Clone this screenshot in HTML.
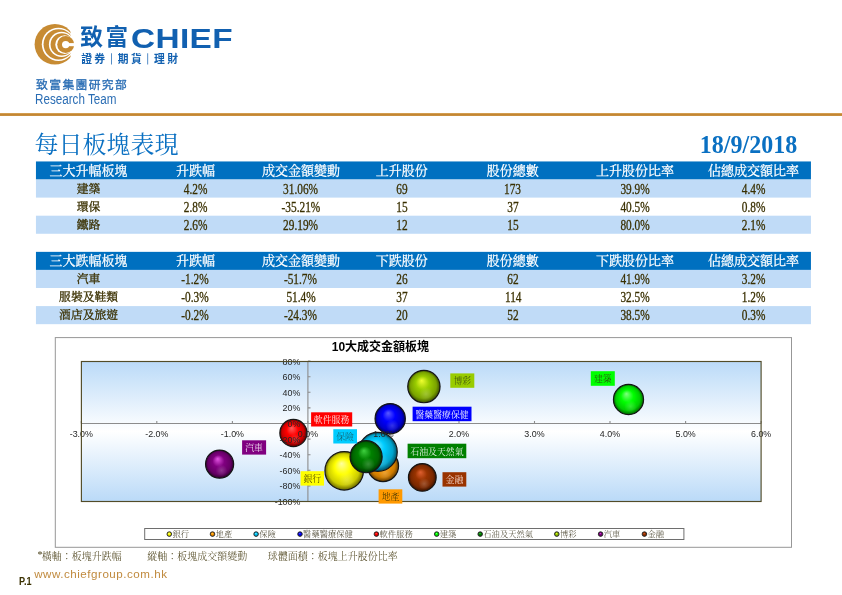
<!DOCTYPE html>
<html lang="zh-HK">
<head>
<meta charset="utf-8">
<title>每日板塊表現</title>
<style>
html,body{margin:0;padding:0;background:#fff;}
body{width:842px;height:595px;position:relative;overflow:hidden;will-change:transform;font-family:"Liberation Serif","Noto Serif CJK SC",serif;color:#3a3000;}
.abs{position:absolute;white-space:nowrap;line-height:1;}
.sans{font-family:"Liberation Sans","Noto Sans CJK TC",sans-serif;}
.logo{position:absolute;left:0;top:0;}
.brand{left:79.9px;top:26.6px;font-family:"Liberation Sans","Noto Sans CJK TC",sans-serif;font-weight:bold;color:#1160b0;font-size:22.6px;letter-spacing:2.7px;}
.chief{left:131px;top:25.6px;font-family:"Liberation Sans","Noto Sans CJK TC",sans-serif;font-weight:bold;color:#1160b0;font-size:26.8px;letter-spacing:0.3px;transform:scaleX(1.245);transform-origin:0 50%;}
.sub{left:80.8px;top:54.1px;font-family:"Liberation Sans","Noto Sans CJK TC",sans-serif;font-weight:bold;color:#1160b0;font-size:10.8px;letter-spacing:2.3px;}
.sub i{font-style:normal;font-weight:normal;display:inline-block;width:10.25px;text-align:center;letter-spacing:0;margin-left:-1.1px;margin-right:1.1px;}
.dept{left:36.1px;top:79.6px;font-family:"Liberation Sans","Noto Sans CJK TC",sans-serif;-webkit-text-stroke:0.3px #2a6db4;color:#2a6db4;font-size:11.8px;letter-spacing:1.35px;}
.team{left:35.2px;top:93.1px;font-family:"Liberation Sans","Noto Sans CJK TC",sans-serif;color:#2a6db4;font-size:13.8px;transform:scaleX(0.845);transform-origin:0 50%;}
.rule{position:absolute;left:0;top:113px;width:842px;height:3px;background:linear-gradient(#d9a85e,#c48632 50%,#c99346);}
.title{left:34.6px;top:133.2px;font-size:24px;color:#0a70c2;}
.date{left:699.8px;top:133.2px;font-size:24px;font-weight:bold;color:#0a70c2;transform:scaleY(1.065);transform-origin:0 100%;}
.tbl{position:absolute;left:36px;width:775.3px;height:73px;}
.tr{position:absolute;left:0;width:775.3px;}
.tr.th{color:#fff;}
.td{position:absolute;top:0;width:130px;height:100%;text-align:center;font-size:11.8px;line-height:20.4px;white-space:nowrap;-webkit-text-stroke:0.3px #3a3000;}
.th .td{font-size:13px;line-height:19.6px;-webkit-text-stroke:0.25px #fff;}
.n{display:inline-block;font-size:14px;line-height:19.4px;transform:scaleX(0.81);-webkit-text-stroke:0.3px #3a3000;vertical-align:top;position:relative;top:0.9px;}
.chart{position:absolute;left:0;top:0;}
.ax text{font-family:"Liberation Sans","Noto Sans CJK TC",sans-serif;font-size:9.9px;fill:#262626;}
.dl{font-family:"Liberation Serif","Noto Serif CJK SC",serif;font-size:8.9px;font-weight:300;}
.ct{font-family:"Liberation Sans","Noto Sans CJK TC",sans-serif;font-size:12px;font-weight:bold;fill:#000;}
.lg{font-family:"Liberation Serif","Noto Serif CJK SC",serif;font-size:8.3px;fill:#4a4530;font-weight:300;}
.note{top:552.2px;font-size:10px;color:#4a4018;font-weight:300;}
.www{left:34.2px;top:567.8px;font-family:"Liberation Sans","Noto Sans CJK TC",sans-serif;color:#c08a3e;font-size:11.6px;letter-spacing:0.52px;}
.pno{left:18.6px;top:575.6px;font-family:"Liberation Sans","Noto Sans CJK TC",sans-serif;font-weight:bold;color:#3a3000;font-size:10.6px;transform:scaleX(0.86);transform-origin:0 50%;}
</style>
</head>
<body>
<svg class="logo" width="842" height="120" viewBox="0 0 842 120" role="img" aria-label="致富CHIEF 證券 | 期貨 | 理財"><title>致富CHIEF 證券 | 期貨 | 理財</title>
<g fill="#c78b33">
<circle cx="54.9" cy="44.3" r="20.3"/>
<circle cx="58.4" cy="44.3" r="16.6" fill="#fff"/>
<circle cx="58.7" cy="44.3" r="15.15"/>
<circle cx="61.5" cy="44.4" r="12.6" fill="#fff"/>
<circle cx="61.8" cy="44.4" r="11.2"/>
<path d="M70.6 20H80V70H70.6Z" fill="#fff"/>
<circle cx="64.7" cy="44.6" r="9.45" fill="#fff"/>
<circle cx="65.7" cy="44.6" r="8.5"/>
<circle cx="65.7" cy="44.6" r="3.7" fill="#fff"/>
<rect x="66" y="43.1" width="9" height="3.1" fill="#fff"/>
</g>
<text x="80.3" y="45.4" font-family="'Liberation Sans','Noto Sans CJK TC',sans-serif" font-weight="bold" font-size="22.6" letter-spacing="2.7" fill="#1160b0">致富</text>
<g font-family="'Liberation Sans','Noto Sans CJK TC',sans-serif" font-weight="bold" font-size="10.8" letter-spacing="2.3" fill="#1160b0">
<text x="81.2" y="63.3">證券</text>
<text x="117.8" y="63.3">期貨</text>
<text x="154.1" y="63.3">理財</text>
</g>
<path fill="#1160b0" fill-opacity=".75" d="M111 53.2h.95v11.3h-.95zM147.2 53.2h.95v11.3h-.95z"/>
</svg>
<div class="abs chief">CHIEF</div>
<div class="abs dept">致富集團研究部</div>
<div class="abs team">Research Team</div>
<div class="rule"></div>
<svg class="chart" width="842" height="595" viewBox="0 0 842 595">
<rect x="35.95" y="161.45" width="775.0" height="18.08" fill="#0070c0"/>
<rect x="35.95" y="179.53" width="775.0" height="18.08" fill="#c0dbf7"/>
<rect x="35.95" y="215.69" width="775.0" height="18.08" fill="#c0dbf7"/>
<rect x="35.95" y="251.85" width="775.0" height="18.08" fill="#0070c0"/>
<rect x="35.95" y="269.93" width="775.0" height="18.08" fill="#c0dbf7"/>
<rect x="35.95" y="306.09" width="775.0" height="18.08" fill="#c0dbf7"/>
</svg>
<div class="abs title">每日板塊表現</div>
<div class="abs date">18/9/2018</div>
<div class="tbl" style="top:161px">
<div class="tr th" style="top:0px;height:18.08px">
<span class="td" style="left:-12.4px">三大升幅板塊</span>
<span class="td" style="left:94.4px">升跌幅</span>
<span class="td" style="left:199.9px">成交金額變動</span>
<span class="td" style="left:300.7px">上升股份</span>
<span class="td" style="left:411.8px">股份總數</span>
<span class="td" style="left:534.1px">上升股份比率</span>
<span class="td" style="left:652.4px">佔總成交額比率</span>
</div>
<div class="tr" style="top:18.08px;height:18.08px">
<span class="td" style="left:-12.4px">建築</span>
<span class="td" style="left:94.4px"><span class="n">4.2%</span></span>
<span class="td" style="left:199.9px"><span class="n">31.06%</span></span>
<span class="td" style="left:300.7px"><span class="n">69</span></span>
<span class="td" style="left:411.8px"><span class="n">173</span></span>
<span class="td" style="left:534.1px"><span class="n">39.9%</span></span>
<span class="td" style="left:652.4px"><span class="n">4.4%</span></span>
</div>
<div class="tr" style="top:36.16px;height:18.08px">
<span class="td" style="left:-12.4px">環保</span>
<span class="td" style="left:94.4px"><span class="n">2.8%</span></span>
<span class="td" style="left:199.9px"><span class="n">-35.21%</span></span>
<span class="td" style="left:300.7px"><span class="n">15</span></span>
<span class="td" style="left:411.8px"><span class="n">37</span></span>
<span class="td" style="left:534.1px"><span class="n">40.5%</span></span>
<span class="td" style="left:652.4px"><span class="n">0.8%</span></span>
</div>
<div class="tr" style="top:54.24px;height:18.08px">
<span class="td" style="left:-12.4px">鐵路</span>
<span class="td" style="left:94.4px"><span class="n">2.6%</span></span>
<span class="td" style="left:199.9px"><span class="n">29.19%</span></span>
<span class="td" style="left:300.7px"><span class="n">12</span></span>
<span class="td" style="left:411.8px"><span class="n">15</span></span>
<span class="td" style="left:534.1px"><span class="n">80.0%</span></span>
<span class="td" style="left:652.4px"><span class="n">2.1%</span></span>
</div>
</div>
<div class="tbl" style="top:251px">
<div class="tr th" style="top:0px;height:18.08px">
<span class="td" style="left:-12.4px">三大跌幅板塊</span>
<span class="td" style="left:94.4px">升跌幅</span>
<span class="td" style="left:199.9px">成交金額變動</span>
<span class="td" style="left:300.7px">下跌股份</span>
<span class="td" style="left:411.8px">股份總數</span>
<span class="td" style="left:534.1px">下跌股份比率</span>
<span class="td" style="left:652.4px">佔總成交額比率</span>
</div>
<div class="tr" style="top:18.08px;height:18.08px">
<span class="td" style="left:-12.4px">汽車</span>
<span class="td" style="left:94.4px"><span class="n">-1.2%</span></span>
<span class="td" style="left:199.9px"><span class="n">-51.7%</span></span>
<span class="td" style="left:300.7px"><span class="n">26</span></span>
<span class="td" style="left:411.8px"><span class="n">62</span></span>
<span class="td" style="left:534.1px"><span class="n">41.9%</span></span>
<span class="td" style="left:652.4px"><span class="n">3.2%</span></span>
</div>
<div class="tr" style="top:36.16px;height:18.08px">
<span class="td" style="left:-12.4px">服裝及鞋類</span>
<span class="td" style="left:94.4px"><span class="n">-0.3%</span></span>
<span class="td" style="left:199.9px"><span class="n">51.4%</span></span>
<span class="td" style="left:300.7px"><span class="n">37</span></span>
<span class="td" style="left:411.8px"><span class="n">114</span></span>
<span class="td" style="left:534.1px"><span class="n">32.5%</span></span>
<span class="td" style="left:652.4px"><span class="n">1.2%</span></span>
</div>
<div class="tr" style="top:54.24px;height:18.08px">
<span class="td" style="left:-12.4px">酒店及旅遊</span>
<span class="td" style="left:94.4px"><span class="n">-0.2%</span></span>
<span class="td" style="left:199.9px"><span class="n">-24.3%</span></span>
<span class="td" style="left:300.7px"><span class="n">20</span></span>
<span class="td" style="left:411.8px"><span class="n">52</span></span>
<span class="td" style="left:534.1px"><span class="n">38.5%</span></span>
<span class="td" style="left:652.4px"><span class="n">0.3%</span></span>
</div>
</div>
<svg class="chart" width="842" height="595" viewBox="0 0 842 595">
<defs><linearGradient id="pg" x1="0" y1="0" x2="0" y2="1"><stop offset="0" stop-color="#badaf8"/><stop offset="0.5" stop-color="#ffffff"/><stop offset="1" stop-color="#badaf8"/></linearGradient>
<radialGradient id="gyl" cx="0.5" cy="0.5" r="0.5" fx="0.43" fy="0.31"><stop offset="0" stop-color="#ffffa0"/><stop offset="0.42" stop-color="#ffff00"/><stop offset="0.8" stop-color="#cccc00"/><stop offset="1" stop-color="#666600"/></radialGradient>
<radialGradient id="gor" cx="0.5" cy="0.5" r="0.5" fx="0.43" fy="0.31"><stop offset="0" stop-color="#ffd060"/><stop offset="0.42" stop-color="#ff9900"/><stop offset="0.8" stop-color="#cc7a00"/><stop offset="1" stop-color="#663d00"/></radialGradient>
<radialGradient id="gcy" cx="0.5" cy="0.5" r="0.5" fx="0.43" fy="0.31"><stop offset="0" stop-color="#80f0ff"/><stop offset="0.42" stop-color="#00ccff"/><stop offset="0.8" stop-color="#00a3cc"/><stop offset="1" stop-color="#005166"/></radialGradient>
<radialGradient id="gbl" cx="0.5" cy="0.5" r="0.5" fx="0.43" fy="0.31"><stop offset="0" stop-color="#5a5aff"/><stop offset="0.42" stop-color="#0000ff"/><stop offset="0.8" stop-color="#0000cc"/><stop offset="1" stop-color="#000066"/></radialGradient>
<radialGradient id="grd" cx="0.5" cy="0.5" r="0.5" fx="0.43" fy="0.31"><stop offset="0" stop-color="#ff6060"/><stop offset="0.42" stop-color="#ff0000"/><stop offset="0.8" stop-color="#cc0000"/><stop offset="1" stop-color="#660000"/></radialGradient>
<radialGradient id="ggn" cx="0.5" cy="0.5" r="0.5" fx="0.43" fy="0.31"><stop offset="0" stop-color="#80ff80"/><stop offset="0.42" stop-color="#00ff00"/><stop offset="0.8" stop-color="#00cc00"/><stop offset="1" stop-color="#006600"/></radialGradient>
<radialGradient id="gdg" cx="0.5" cy="0.5" r="0.5" fx="0.43" fy="0.31"><stop offset="0" stop-color="#3fd03f"/><stop offset="0.42" stop-color="#008000"/><stop offset="0.8" stop-color="#006600"/><stop offset="1" stop-color="#003300"/></radialGradient>
<radialGradient id="gyg" cx="0.5" cy="0.5" r="0.5" fx="0.43" fy="0.31"><stop offset="0" stop-color="#f0ff30"/><stop offset="0.42" stop-color="#99cc00"/><stop offset="0.8" stop-color="#7aa300"/><stop offset="1" stop-color="#3d5100"/></radialGradient>
<radialGradient id="gpu" cx="0.5" cy="0.5" r="0.5" fx="0.43" fy="0.31"><stop offset="0" stop-color="#e455e4"/><stop offset="0.42" stop-color="#800080"/><stop offset="0.8" stop-color="#660066"/><stop offset="1" stop-color="#330033"/></radialGradient>
<radialGradient id="gbr" cx="0.5" cy="0.5" r="0.5" fx="0.43" fy="0.31"><stop offset="0" stop-color="#e06030"/><stop offset="0.42" stop-color="#993300"/><stop offset="0.8" stop-color="#7a2800"/><stop offset="1" stop-color="#3d1400"/></radialGradient>
<radialGradient id="h2" cx="0.57" cy="0.74" r="0.22"><stop offset="0" stop-color="#fff" stop-opacity="0.2"/><stop offset="1" stop-color="#fff" stop-opacity="0"/></radialGradient>
</defs>
<rect x="55.3" y="337.6" width="736.2" height="209.7" fill="#fff" stroke="#979797" stroke-width="1"/>
<rect x="81.3" y="361.1" width="679.8" height="140.4" fill="url(#pg)"/>
<g stroke="#8c8c8c" stroke-width="1.1" fill="none">
<path d="M307.9 361.1V501.5"/>
<path d="M81.3 423.5H761.1"/>
<path d="M307.9 501.5h2.6M307.9 485.9h2.6M307.9 470.3h2.6M307.9 454.7h2.6M307.9 439.1h2.6M307.9 423.5h2.6M307.9 407.9h2.6M307.9 392.3h2.6M307.9 376.7h2.6M307.9 361.1h2.6M81.3 423.5v-2.6M156.8 423.5v-2.6M232.4 423.5v-2.6M307.9 423.5v-2.6M383.4 423.5v-2.6M459.0 423.5v-2.6M534.5 423.5v-2.6M610.0 423.5v-2.6M685.6 423.5v-2.6M761.1 423.5v-2.6"/>
</g>
<circle cx="344.2" cy="470.8" r="19.25" fill="url(#gyl)" stroke="#151515" stroke-width="1.2"/><circle cx="344.2" cy="470.8" r="18.70" fill="url(#h2)"/>
<circle cx="383.0" cy="466.0" r="15.55" fill="url(#gor)" stroke="#151515" stroke-width="1.2"/><circle cx="383.0" cy="466.0" r="15.00" fill="url(#h2)"/>
<circle cx="377.8" cy="451.9" r="19.45" fill="url(#gcy)" stroke="#151515" stroke-width="1.2"/><circle cx="377.8" cy="451.9" r="18.90" fill="url(#h2)"/>
<circle cx="390.2" cy="418.7" r="15.15" fill="url(#gbl)" stroke="#151515" stroke-width="1.2"/><circle cx="390.2" cy="418.7" r="14.60" fill="url(#h2)"/>
<circle cx="293.4" cy="433.0" r="13.55" fill="url(#grd)" stroke="#151515" stroke-width="1.2"/><circle cx="293.4" cy="433.0" r="13.00" fill="url(#h2)"/>
<circle cx="628.5" cy="399.5" r="15.05" fill="url(#ggn)" stroke="#151515" stroke-width="1.2"/><circle cx="628.5" cy="399.5" r="14.50" fill="url(#h2)"/>
<circle cx="366.1" cy="456.7" r="16.05" fill="url(#gdg)" stroke="#151515" stroke-width="1.2"/><circle cx="366.1" cy="456.7" r="15.50" fill="url(#h2)"/>
<circle cx="423.9" cy="386.6" r="16.15" fill="url(#gyg)" stroke="#151515" stroke-width="1.2"/><circle cx="423.9" cy="386.6" r="15.60" fill="url(#h2)"/>
<circle cx="219.6" cy="464.1" r="14.05" fill="url(#gpu)" stroke="#151515" stroke-width="1.2"/><circle cx="219.6" cy="464.1" r="13.50" fill="url(#h2)"/>
<circle cx="422.3" cy="477.4" r="13.85" fill="url(#gbr)" stroke="#151515" stroke-width="1.2"/><circle cx="422.3" cy="477.4" r="13.30" fill="url(#h2)"/>
<g class="ax" text-anchor="end">
<text transform="translate(300.4 364.7) scale(.9 1)">80%</text>
<text transform="translate(300.4 380.2) scale(.9 1)">60%</text>
<text transform="translate(300.4 395.9) scale(.9 1)">40%</text>
<text transform="translate(300.4 411.4) scale(.9 1)">20%</text>
<text transform="translate(300.4 427.1) scale(.9 1)">0%</text>
<text transform="translate(300.4 442.7) scale(.9 1)">-20%</text>
<text transform="translate(300.4 458.2) scale(.9 1)">-40%</text>
<text transform="translate(300.4 473.9) scale(.9 1)">-60%</text>
<text transform="translate(300.4 489.4) scale(.9 1)">-80%</text>
<text transform="translate(300.4 505.1) scale(.9 1)">-100%</text>
</g>
<g class="ax" text-anchor="middle">
<text transform="translate(81.3 437.4) scale(.9 1)">-3.0%</text>
<text transform="translate(156.8 437.4) scale(.9 1)">-2.0%</text>
<text transform="translate(232.4 437.4) scale(.9 1)">-1.0%</text>
<text transform="translate(307.9 437.4) scale(.9 1)">0.0%</text>
<text transform="translate(383.4 437.4) scale(.9 1)">1.0%</text>
<text transform="translate(459.0 437.4) scale(.9 1)">2.0%</text>
<text transform="translate(534.5 437.4) scale(.9 1)">3.0%</text>
<text transform="translate(610.0 437.4) scale(.9 1)">4.0%</text>
<text transform="translate(685.6 437.4) scale(.9 1)">5.0%</text>
<text transform="translate(761.1 437.4) scale(.9 1)">6.0%</text>
</g>
<rect x="81.4" y="361.5" width="679.7" height="140.0" fill="none" stroke="#524c28" stroke-width="1.15"/>
<rect x="300.6" y="471.2" width="23.4" height="14.4" fill="#ffff00"/>
<text class="dl" x="312.3" y="482.0" fill="#3a3000" text-anchor="middle">銀行</text>
<rect x="378.6" y="489.3" width="23.7" height="14.3" fill="#ff9900"/>
<text class="dl" x="390.5" y="500.1" fill="#3a3000" text-anchor="middle">地產</text>
<rect x="333.3" y="429.2" width="23.7" height="14.3" fill="#00ccff"/>
<text class="dl" x="345.1" y="440.0" fill="#14606e" text-anchor="middle">保險</text>
<rect x="412.6" y="406.7" width="58.9" height="14.5" fill="#0000ff"/>
<text class="dl" x="442.1" y="417.6" fill="#ffffff" text-anchor="middle">醫藥醫療保健</text>
<rect x="311.1" y="412.3" width="41.1" height="14.2" fill="#ff0000"/>
<text class="dl" x="331.6" y="423.0" fill="#ffffff" text-anchor="middle">軟件服務</text>
<rect x="590.8" y="371.2" width="24.0" height="14.6" fill="#00ff00"/>
<text class="dl" x="602.8" y="382.1" fill="#2a4a10" text-anchor="middle">建築</text>
<rect x="407.6" y="443.7" width="58.7" height="14.5" fill="#008000"/>
<text class="dl" x="437.0" y="454.6" fill="#ffffff" text-anchor="middle">石油及天然氣</text>
<rect x="450.3" y="373.4" width="24.0" height="14.4" fill="#99cc00"/>
<text class="dl" x="462.3" y="384.2" fill="#3a4a10" text-anchor="middle">博彩</text>
<rect x="242.1" y="440.3" width="24.0" height="14.3" fill="#800080"/>
<text class="dl" x="254.1" y="451.1" fill="#ffffff" text-anchor="middle">汽車</text>
<rect x="442.5" y="472.2" width="23.8" height="14.4" fill="#993300"/>
<text class="dl" x="454.4" y="483.0" fill="#ffe8e0" text-anchor="middle">金融</text>
<text class="ct" x="380.4" y="351.2" text-anchor="middle">10大成交金額板塊</text>
<rect x="144.7" y="528.5" width="539.2" height="11.0" fill="#fff" stroke="#6e6e6e" stroke-width="1"/>
<circle cx="169.3" cy="534.1" r="2.3" fill="url(#gyl)" stroke="#222" stroke-width="0.9"/>
<text class="lg" x="172.4" y="537.2">銀行</text>
<circle cx="212.5" cy="534.1" r="2.3" fill="url(#gor)" stroke="#222" stroke-width="0.9"/>
<text class="lg" x="215.6" y="537.2">地產</text>
<circle cx="256.1" cy="534.1" r="2.3" fill="url(#gcy)" stroke="#222" stroke-width="0.9"/>
<text class="lg" x="259.2" y="537.2">保險</text>
<circle cx="300.0" cy="534.1" r="2.3" fill="url(#gbl)" stroke="#222" stroke-width="0.9"/>
<text class="lg" x="303.1" y="537.2">醫藥醫療保健</text>
<circle cx="376.4" cy="534.1" r="2.3" fill="url(#grd)" stroke="#222" stroke-width="0.9"/>
<text class="lg" x="379.5" y="537.2">軟件服務</text>
<circle cx="436.7" cy="534.1" r="2.3" fill="url(#ggn)" stroke="#222" stroke-width="0.9"/>
<text class="lg" x="439.8" y="537.2">建築</text>
<circle cx="480.2" cy="534.1" r="2.3" fill="url(#gdg)" stroke="#222" stroke-width="0.9"/>
<text class="lg" x="483.3" y="537.2">石油及天然氣</text>
<circle cx="556.8" cy="534.1" r="2.3" fill="url(#gyg)" stroke="#222" stroke-width="0.9"/>
<text class="lg" x="559.9" y="537.2">博彩</text>
<circle cx="600.6" cy="534.1" r="2.3" fill="url(#gpu)" stroke="#222" stroke-width="0.9"/>
<text class="lg" x="603.7" y="537.2">汽車</text>
<circle cx="644.4" cy="534.1" r="2.3" fill="url(#gbr)" stroke="#222" stroke-width="0.9"/>
<text class="lg" x="647.5" y="537.2">金融</text>
</svg>
<div class="abs note" style="left:37.4px"><span style="position:relative;top:-2px;margin-right:-0.6px">*</span>橫軸：板塊升跌幅</div>
<div class="abs note" style="left:147.2px">縱軸：板塊成交額變動</div>
<div class="abs note" style="left:267.8px">球體面積：板塊上升股份比率</div>
<div class="abs www">www.chiefgroup.com.hk</div>
<div class="abs pno">P.1</div>
</body>
</html>
